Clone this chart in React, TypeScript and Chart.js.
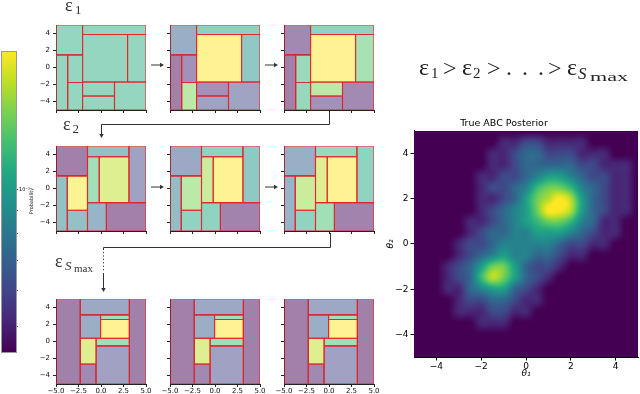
import React, { useEffect, useRef } from 'react';
import { Chart, registerables } from 'chart.js';

Chart.register(...registerables);
Chart.defaults.font.family = "'DejaVu Sans', sans-serif";

// ---------------- data ----------------
const smallXTicks = [-5, -2.5, 0, 2.5, 5];
const smallYTicks = [-4, -2, 0, 2, 4];

// partition cells: [x0, x1, y0, y1]
const stage1Cells = [
  [-5, -2.05, 1.5, 5],
  [-2.05, 5, 3.9, 5],
  [-2.05, 2.95, -1.7, 3.9],
  [2.95, 5, -1.7, 3.9],
  [-5, -3.7, -5, 1.5],
  [-3.7, -2.05, -1.75, 1.5],
  [-3.7, -2.05, -5, -1.75],
  [-2.05, 1.5, -3.35, -1.7],
  [-2.05, 1.5, -5, -3.35],
  [1.5, 5, -5, -1.7],
];
// probability level (0..1 of colour scale) of every cell, one list per panel
const stage1Levels = [
  [0.62, 0.62, 0.62, 0.62, 0.62, 0.62, 0.62, 0.62, 0.62, 0.62],
  [0.3, 0.58, 1.0, 0.5, 0.0, 0.1, 0.8, 0.1, 0.2, 0.22],
  [0.05, 0.6, 1.0, 0.72, 0.0, 0.66, 0.64, 0.8, 0.1, 0.06],
];

const stage2Cells = [
  [-5, -1.5, 1.5, 5],
  [-5, -3.75, -5, 1.5],
  [-3.75, -1.5, -2.55, 1.5],
  [-3.75, -1.5, -5, -2.55],
  [-1.5, 3.1, 3.75, 5],
  [-1.5, -0.2, -1.65, 3.75],
  [-0.2, 3.1, -1.65, 3.75],
  [3.1, 5, -1.65, 5],
  [-1.5, 0.6, -5, -1.65],
  [0.6, 5, -5, -1.65],
];
const stage2Levels = [
  [0.0, 0.45, 1.0, 0.45, 0.45, 0.7, 0.9, 0.2, 0.35, 0.0],
  [0.25, 0.4, 0.8, 0.6, 0.6, 0.85, 1.0, 0.5, 0.6, 0.02],
  [0.3, 0.35, 0.85, 0.6, 0.65, 0.9, 1.0, 0.6, 0.7, 0.02],
];

const stage3Cells = [
  [-5, -2.3, -5, 5],
  [3.15, 5, -5, 5],
  [-2.3, 3.15, 3.15, 5],
  [-2.3, -0.05, 0.4, 3.15],
  [-0.05, 3.15, 2.6, 3.15],
  [-0.05, 3.15, 0.4, 2.6],
  [-2.3, -0.55, -2.65, 0.4],
  [-2.3, -0.55, -5, -2.65],
  [-0.55, 3.15, -0.5, 0.4],
  [-0.55, 3.15, -5, -0.5],
];
const stage3Levels = [
  [0.0, 0.0, 0.25, 0.3, 0.7, 1.0, 0.9, 0.05, 0.7, 0.2],
  [0.0, 0.0, 0.25, 0.3, 0.7, 1.0, 0.9, 0.05, 0.7, 0.2],
  [0.0, 0.0, 0.25, 0.3, 0.7, 1.0, 0.9, 0.05, 0.7, 0.2],
];

// true ABC posterior, read on a 0.5 grid (rows y = 5 .. -5, cols x = -5 .. 5), level 0..9
const posteriorX = [-5, -4.5, -4, -3.5, -3, -2.5, -2, -1.5, -1, -0.5, 0, 0.5, 1, 1.5, 2, 2.5, 3, 3.5, 4, 4.5, 5];
const posteriorY = [5, 4.5, 4, 3.5, 3, 2.5, 2, 1.5, 1, 0.5, 0, -0.5, -1, -1.5, -2, -2.5, -3, -3.5, -4, -4.5, -5];
const posteriorLevels = [
  '000000000000000000000',
  '000000001122111100000',
  '000000011233222111000',
  '000000011233333221110',
  '000000112234554322110',
  '000000122346776432110',
  '000000112357898532110',
  '000000123457998532110',
  '000001123456776431100',
  '000001233445554321100',
  '000012234444432211000',
  '000012345443321100000',
  '000123577532210000000',
  '000123687532100000000',
  '000113455321000000000',
  '000012233211000000000',
  '000011122110000000000',
  '000000111000000000000',
  '000000000000000000000',
  '000000000000000000000',
  '000000000000000000000',
];
const heatTicks = [-4, -2, 0, 2, 4];

const colorbarMin = 4.4e-4;
const colorbarMax = 2.0e-3;
const colorbarTicks = [5e-4, 6e-4, 7e-4, 8e-4, 9e-4, 1e-3];

// ---------------- colour map ----------------
const VIRIDIS = ['#440154', '#482475', '#414487', '#355f8d', '#2a788e', '#21918c', '#22a884', '#44bf70', '#7ad151', '#bddf26', '#fde725'];
function hexRgb(h: string) {
  return [parseInt(h.slice(1, 3), 16), parseInt(h.slice(3, 5), 16), parseInt(h.slice(5, 7), 16)];
}
function viridisRgb(t: number) {
  const tt = Math.max(0, Math.min(1, t));
  const p = tt * 10;
  const i = Math.min(9, Math.floor(p));
  const f = p - i;
  const a = hexRgb(VIRIDIS[i]);
  const b = hexRgb(VIRIDIS[i + 1]);
  return [0, 1, 2].map((k) => Math.round(a[k] + (b[k] - a[k]) * f));
}
function viridis(t: number, alpha = 1) {
  const c = viridisRgb(t);
  return `rgba(${c[0]},${c[1]},${c[2]},${alpha})`;
}

const minus = (v: number) => (v < 0 ? '\u2212' : '') + Math.abs(v);

// ---------------- layout ----------------
const PLOT_LEFTS = [56, 170, 284];
const PLOT_TOPS = [20, 141, 294];
const BOX = 90;
const YW = 20;
const PT = 2;
const PR = 14;
const XH = 14;

function PartitionPlot({ left, top, cells, levels, showX, showY }: any) {
  const ref = useRef<HTMLCanvasElement>(null);
  useEffect(() => {
    const chart = new Chart(ref.current as HTMLCanvasElement, {
      type: 'scatter',
      data: {
        datasets: cells.map((c: number[], k: number) => ({
          data: [
            { x: c[0], y: c[2] },
            { x: c[1], y: c[2] },
            { x: c[1], y: c[3] },
            { x: c[0], y: c[3] },
            { x: c[0], y: c[2] },
          ],
          showLine: true,
          fill: 'shape',
          backgroundColor: viridis(levels[k], 0.5),
          borderColor: '#e5262b',
          borderWidth: 1.1,
          pointRadius: 0,
          tension: 0,
        })),
      },
      options: {
        responsive: false,
        animation: false,
        events: [],
        layout: { padding: { top: PT, right: PR, left: 0, bottom: 0 }, autoPadding: false },
        plugins: { legend: { display: false }, tooltip: { enabled: false }, title: { display: false } },
        scales: {
          x: {
            type: 'linear',
            min: -5,
            max: 5,
            afterBuildTicks: (s: any) => {
              s.ticks = smallXTicks.map((v) => ({ value: v }));
            },
            afterFit: (s: any) => {
              s.height = XH;
            },
            ticks: {
              autoSkip: false,
              maxRotation: 0,
              padding: 0,
              color: '#111',
              font: { size: 7 },
              callback: (v: any) => (showX ? (v < 0 ? '\u2212' : '') + Math.abs(v).toFixed(1) : ''),
            },
            grid: { drawOnChartArea: false, drawTicks: true, tickLength: 3, color: '#222' },
            border: { display: true, color: '#222' },
          },
          y: {
            type: 'linear',
            min: -5,
            max: 5,
            afterBuildTicks: (s: any) => {
              s.ticks = smallYTicks.map((v) => ({ value: v }));
            },
            afterFit: (s: any) => {
              s.width = YW;
            },
            ticks: {
              autoSkip: false,
              padding: 3,
              color: '#111',
              font: { size: 7 },
              callback: (v: any) => (showY ? minus(v) : ''),
            },
            grid: { drawOnChartArea: false, drawTicks: true, tickLength: 3, color: '#222' },
            border: { display: true, color: '#222' },
          },
        },
      } as any,
    });
    return () => chart.destroy();
  }, []);
  const w = YW + BOX + PR;
  const h = PT + BOX + XH;
  return (
    <canvas
      ref={ref}
      width={w}
      height={h}
      style={{ position: 'absolute', left: left - YW, top: top - PT, width: w, height: h }}
    />
  );
}

// smooth (Catmull-Rom) rendering of the level grid
function crKernel(t: number) {
  const a = Math.abs(t);
  if (a < 1) return 1.5 * a * a * a - 2.5 * a * a + 1;
  if (a < 2) return -0.5 * a * a * a + 2.5 * a * a - 4 * a + 2;
  return 0;
}

const heatPlugin = {
  id: 'heatImage',
  beforeDatasetsDraw(chart: any) {
    const { ctx, chartArea: a, scales } = chart;
    const xs = scales.x;
    const ys = scales.y;
    ctx.save();
    ctx.beginPath();
    ctx.rect(a.left, a.top, a.right - a.left, a.bottom - a.top);
    ctx.clip();
    ctx.fillStyle = viridis(0);
    ctx.fillRect(a.left, a.top, a.right - a.left, a.bottom - a.top);
    const grid = posteriorLevels.map((r) => r.split('').map((ch) => Number(ch) / 9));
    const nx = posteriorX.length;
    const ny = posteriorY.length;
    const get = (r: number, c: number) => grid[Math.max(0, Math.min(ny - 1, r))][Math.max(0, Math.min(nx - 1, c))];
    const S = 12;
    const W = (nx - 1) * S + 1;
    const H = (ny - 1) * S + 1;
    const off = document.createElement('canvas');
    off.width = W;
    off.height = H;
    const octx = off.getContext('2d') as CanvasRenderingContext2D;
    const img = octx.createImageData(W, H);
    for (let py = 0; py < H; py++) {
      const v = py / S;
      const iv = Math.floor(v);
      const fv = v - iv;
      for (let px = 0; px < W; px++) {
        const u = px / S;
        const iu = Math.floor(u);
        const fu = u - iu;
        let s = 0;
        for (let m = -1; m <= 2; m++) {
          const wv = crKernel(m - fv);
          if (wv === 0) continue;
          for (let n = -1; n <= 2; n++) {
            const wu = crKernel(n - fu);
            if (wu === 0) continue;
            s += wv * wu * get(iv + m, iu + n);
          }
        }
        const c = viridisRgb(s);
        const o = (py * W + px) * 4;
        img.data[o] = c[0];
        img.data[o + 1] = c[1];
        img.data[o + 2] = c[2];
        img.data[o + 3] = 255;
      }
    }
    octx.putImageData(img, 0, 0);
    const x0 = xs.getPixelForValue(posteriorX[0]);
    const x1 = xs.getPixelForValue(posteriorX[nx - 1]);
    const y0 = ys.getPixelForValue(posteriorY[0]);
    const y1 = ys.getPixelForValue(posteriorY[ny - 1]);
    ctx.imageSmoothingEnabled = true;
    ctx.drawImage(off, x0, y0, x1 - x0, y1 - y0);
    ctx.restore();
  },
};

function Heatmap() {
  const ref = useRef<HTMLCanvasElement>(null);
  useEffect(() => {
    const axisCommon = {
      type: 'linear',
      min: -5,
      max: 5,
      grid: { drawOnChartArea: false, drawTicks: true, tickLength: 3.5, color: '#000' },
      border: { display: true, color: '#000' },
    };
    const chart = new Chart(ref.current as HTMLCanvasElement, {
      type: 'scatter',
      data: { datasets: [] },
      plugins: [heatPlugin],
      options: {
        responsive: false,
        animation: false,
        events: [],
        layout: { padding: { left: 0, right: 2, top: 0, bottom: 0 }, autoPadding: false },
        plugins: {
          legend: { display: false },
          tooltip: { enabled: false },
          title: {
            display: true,
            text: 'True ABC Posterior',
            color: '#000',
            font: { size: 9.5, weight: 'normal' },
            padding: { top: 6, bottom: 1.5 },
          },
        },
        scales: {
          x: {
            ...axisCommon,
            afterBuildTicks: (s: any) => {
              s.ticks = heatTicks.map((v) => ({ value: v }));
            },
            afterFit: (s: any) => {
              s.height = 37;
            },
            ticks: { autoSkip: false, maxRotation: 0, padding: 1, color: '#000', font: { size: 9 }, callback: (v: any) => minus(v) },
            title: { display: true, text: 'θ₁', color: '#000', font: { size: 9, style: 'italic' }, padding: { top: 0, bottom: 15.3 } },
          },
          y: {
            ...axisCommon,
            afterBuildTicks: (s: any) => {
              s.ticks = heatTicks.map((v) => ({ value: v }));
            },
            afterFit: (s: any) => {
              s.width = 44;
            },
            ticks: { autoSkip: false, padding: 2, color: '#000', font: { size: 9 }, callback: (v: any) => minus(v) },
            title: { display: true, text: 'θ₂', color: '#000', font: { size: 9, style: 'italic' }, padding: { top: 15.3, bottom: 0 } },
          },
        },
      } as any,
    });
    return () => chart.destroy();
  }, []);
  return <canvas ref={ref} width={270} height={282} style={{ position: 'absolute', left: 370, top: 112, width: 270, height: 282 }} />;
}

const colorbarPlugin = {
  id: 'cbGradient',
  beforeDatasetsDraw(chart: any) {
    const { ctx, chartArea: a } = chart;
    const g = ctx.createLinearGradient(0, a.bottom, 0, a.top);
    VIRIDIS.forEach((c, i) => g.addColorStop(i / (VIRIDIS.length - 1), c));
    ctx.save();
    ctx.fillStyle = g;
    ctx.fillRect(a.left, a.top, a.right - a.left, a.bottom - a.top);
    ctx.strokeStyle = '#999';
    ctx.lineWidth = 1;
    ctx.strokeRect(a.left - 0.5, a.top - 0.5, a.right - a.left + 1, a.bottom - a.top + 1);
    ctx.restore();
  },
};

function Colorbar() {
  const ref = useRef<HTMLCanvasElement>(null);
  useEffect(() => {
    const chart = new Chart(ref.current as HTMLCanvasElement, {
      type: 'scatter',
      data: { datasets: [] },
      plugins: [colorbarPlugin],
      options: {
        responsive: false,
        animation: false,
        events: [],
        layout: { padding: { left: 2, top: 4, bottom: 3, right: 0 }, autoPadding: false },
        plugins: { legend: { display: false }, tooltip: { enabled: false } },
        scales: {
          x: { display: false, min: 0, max: 1 },
          y: {
            type: 'logarithmic',
            position: 'right',
            min: colorbarMin,
            max: colorbarMax,
            afterBuildTicks: (s: any) => {
              s.ticks = colorbarTicks.map((v) => ({ value: v }));
            },
            afterFit: (s: any) => {
              s.width = 24;
            },
            ticks: {
              autoSkip: false,
              padding: 1,
              color: '#000',
              font: { size: 5 },
              callback: (v: any) => (Math.abs(v - 1e-3) < 1e-9 ? '10\u207B\u00B3' : ''),
            },
            grid: { drawOnChartArea: false, drawTicks: true, tickLength: 2, color: '#555' },
            border: { display: false },
          },
        },
      } as any,
    });
    return () => chart.destroy();
  }, []);
  return <canvas ref={ref} width={40} height={308} style={{ position: 'absolute', left: 0, top: 48, width: 40, height: 308 }} />;
}

function Arrow({ x1, y1, x2, y2 }: any) {
  const dx = x2 - x1;
  const dy = y2 - y1;
  const len = Math.hypot(dx, dy);
  const ux = dx / len;
  const uy = dy / len;
  const bx = x2 - ux * 4;
  const by = y2 - uy * 4;
  const px = -uy * 2.2;
  const py = ux * 2.2;
  return (
    <g>
      <line x1={x1} y1={y1} x2={bx} y2={by} stroke="#333" strokeWidth={1} />
      <path d={`M${x2},${y2} L${bx + px},${by + py} L${bx - px},${by - py} Z`} fill="#333" />
    </g>
  );
}

function Overlay() {
  const serif = "'Liberation Serif', 'DejaVu Serif', serif";
  return (
    <svg width={640} height={394} style={{ position: 'absolute', left: 0, top: 0, pointerEvents: 'none' }}>
      {/* stage arrows */}
      <Arrow x1={151} y1={65} x2={164} y2={65} />
      <Arrow x1={265} y1={65} x2={278} y2={65} />
      <Arrow x1={151} y1={187} x2={164} y2={187} />
      <Arrow x1={265} y1={187} x2={278} y2={187} />
      {/* connector 1 */}
      <polyline points="329.5,112 329.5,124.5 101.5,124.5 101.5,134" fill="none" stroke="#333" strokeWidth={1} />
      <Arrow x1={101.5} y1={130} x2={101.5} y2={138} />
      {/* connector 2 */}
      <polyline points="330.5,233 330.5,247.5 103.5,247.5 103.5,250" fill="none" stroke="#333" strokeWidth={1} />
      <line x1={103.5} y1={252} x2={103.5} y2={271} stroke="#333" strokeWidth={1} strokeDasharray="1.2,2.2" />
      <Arrow x1={103.5} y1={273} x2={103.5} y2={292} />

      {/* stage labels */}
      <text x={65} y={10.5} fontFamily={serif} fontSize={18} fill="#333">ε</text>
      <text x={75} y={13.5} fontFamily={serif} fontSize={13} fill="#333">1</text>
      <text x={63} y={130} fontFamily={serif} fontSize={18} fill="#333">ε</text>
      <text x={72.5} y={133} fontFamily={serif} fontSize={13} fill="#333">2</text>
      <text x={55} y={266.5} fontFamily={serif} fontSize={18} fill="#333">ε</text>
      <text x={65} y={269.5} fontFamily={serif} fontSize={13} fill="#333" fontStyle="italic">S</text>
      <text x={74} y={271.5} fontFamily={serif} fontSize={11} fill="#333">max</text>

      {/* header */}
      <text x={419} y={75} fontFamily={serif} fontSize={24} fill="#222">ε</text>
      <text x={431} y={78} fontFamily={serif} fontSize={15} fill="#222">1</text>
      <text x={443} y={76} fontFamily={serif} fontSize={24} fill="#222">&gt;</text>
      <text x={462} y={75} fontFamily={serif} fontSize={24} fill="#222">ε</text>
      <text x={473} y={78} fontFamily={serif} fontSize={15} fill="#222">2</text>
      <text x={487} y={76} fontFamily={serif} fontSize={24} fill="#222">&gt;</text>
      <text x={506} y={75} fontFamily={serif} fontSize={24} fill="#222">.</text>
      <text x={522} y={75} fontFamily={serif} fontSize={24} fill="#222">.</text>
      <text x={538} y={75} fontFamily={serif} fontSize={24} fill="#222">.</text>
      <text x={548} y={76} fontFamily={serif} fontSize={24} fill="#222">&gt;</text>
      <text x={567} y={75} fontFamily={serif} fontSize={24} fill="#222">ε</text>
      <text x={578} y={79} fontFamily={serif} fontSize={17} fill="#222" fontStyle="italic">S</text>
      <text x={590} y={81} fontFamily={serif} fontSize={13} fill="#222" textLength={38} lengthAdjust="spacingAndGlyphs">max</text>

      {/* colorbar label */}
      <text x={0} y={0} transform="translate(32.5,201) rotate(-90)" textAnchor="middle" fontFamily="'DejaVu Sans', sans-serif" fontSize={5} fill="#111">Probability</text>
    </svg>
  );
}

export default function App() {
  const rows = [
    { cells: stage1Cells, levels: stage1Levels },
    { cells: stage2Cells, levels: stage2Levels },
    { cells: stage3Cells, levels: stage3Levels },
  ];
  return (
    <div style={{ position: 'fixed', left: 0, top: 0, width: 640, height: 394, overflow: 'hidden', background: '#fff' }}>
      <Colorbar />
      {rows.map((r, ri) =>
        PLOT_LEFTS.map((lx, ci) => (
          <PartitionPlot
            key={`${ri}-${ci}`}
            left={lx}
            top={PLOT_TOPS[ri]}
            cells={r.cells}
            levels={r.levels[ci]}
            showX={ri === 2}
            showY={ci === 0}
          />
        ))
      )}
      <Heatmap />
      <Overlay />
    </div>
  );
}
